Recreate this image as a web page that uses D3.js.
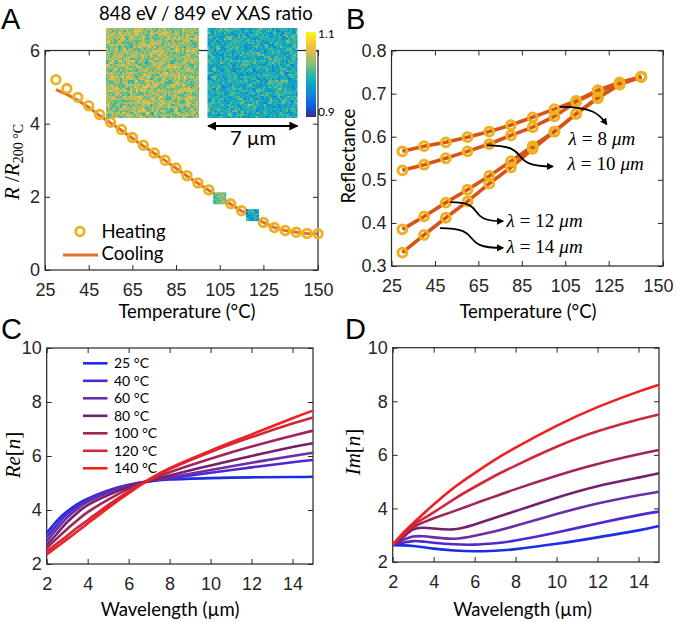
<!DOCTYPE html>
<html><head><meta charset="utf-8">
<script src="https://cdnjs.cloudflare.com/ajax/libs/d3/7.8.5/d3.min.js"></script>
<style>body{margin:0;background:#fff}</style>
</head><body>
<svg id="fig" width="677" height="622" xmlns="http://www.w3.org/2000/svg"></svg>
<script>
// ---------------- DATA ----------------
// Panel A
const tempA = [30,35,40,45,50,55,60,65,70,75,80,85,90,95,100,105,110,115,120,125,130,135,140,145,150];
const heatingA = [5.2,4.96,4.72,4.49,4.25,4.04,3.84,3.62,3.41,3.2,3.0,2.79,2.58,2.38,2.19,1.96,1.81,1.62,1.5,1.3,1.16,1.08,1.03,1.0,0.99];
const coolingA = [4.93,4.8,4.64,4.45,4.22,4.02,3.82,3.6,3.39,3.19,2.99,2.78,2.57,2.37,2.18,1.98,1.8,1.61,1.47,1.3,1.16,1.08,1.03,1.0,0.99];
const xasTemps = [105,120];          // temperatures of the XAS map markers
const xasMean = [0.6,0.42];          // mean colour position of the map markers
const xTicksA = [25,45,65,85,105,125,150];
const yTicksA = [0,2,4,6];
// Panel B
const tempB = [30,40,50,60,70,80,90,100,110,120,130,140];
const refl8  = [0.566,0.578,0.587,0.599,0.612,0.627,0.645,0.664,0.683,0.708,0.726,0.739];
const refl10 = [0.522,0.535,0.550,0.566,0.583,0.603,0.622,0.647,0.681,0.706,0.723,0.739];
const refl12 = [0.385,0.415,0.447,0.477,0.509,0.543,0.578,0.612,0.653,0.691,0.722,0.739];
const refl14 = [0.331,0.372,0.412,0.450,0.491,0.529,0.572,0.612,0.653,0.689,0.721,0.739];
const lambdaLabels = ["8","10","12","14"];
const xTicksB = [25,45,65,85,105,125,150];
const yTicksB = [0.3,0.4,0.5,0.6,0.7,0.8];
// Panels C & D
const wavelength = [2,2.5,3,3.5,4,5,6,7,8,10,12,14,15];
const tempsCD = ["25 °C","40 °C","60 °C","80 °C","100 °C","120 °C","140 °C"];
const colorsCD = ["#1c2de6","#5127cf","#6a2ea8","#74206f","#a0265a","#cf283c","#f0201e"];
const reN25  = [3.15,3.60,3.95,4.22,4.42,4.72,4.93,5.06,5.13,5.18,5.21,5.22,5.23];
const reN40  = [3.00,3.45,3.85,4.15,4.38,4.70,4.92,5.07,5.17,5.38,5.58,5.77,5.85];
const reN60  = [2.85,3.30,3.72,4.05,4.30,4.65,4.90,5.07,5.20,5.48,5.75,6.00,6.12];
const reN80  = [2.70,3.12,3.55,3.90,4.18,4.55,4.85,5.08,5.28,5.65,6.00,6.33,6.47];
const reN100 = [2.58,2.95,3.30,3.62,3.92,4.38,4.78,5.10,5.40,5.90,6.35,6.75,6.94];
const reN120 = [2.45,2.76,3.05,3.35,3.62,4.18,4.68,5.13,5.52,6.15,6.70,7.20,7.43];
const reN140 = [2.35,2.64,2.92,3.21,3.50,4.08,4.62,5.13,5.55,6.20,6.80,7.40,7.68];
const imN25  = [2.63,2.62,2.60,2.55,2.50,2.43,2.40,2.42,2.48,2.68,2.92,3.18,3.34];
const imN40  = [2.65,2.72,2.78,2.76,2.72,2.66,2.65,2.70,2.80,3.10,3.44,3.75,3.88];
const imN60  = [2.65,2.82,2.95,2.96,2.92,2.87,2.98,3.15,3.35,3.79,4.18,4.49,4.62];
const imN80  = [2.65,2.92,3.22,3.28,3.25,3.22,3.40,3.65,3.90,4.40,4.83,5.15,5.31];
const imN100 = [2.65,2.98,3.30,3.48,3.63,3.90,4.18,4.45,4.72,5.22,5.66,6.02,6.18];
const imN120 = [2.65,3.02,3.38,3.62,3.85,4.35,4.80,5.22,5.60,6.30,6.88,7.32,7.51];
const imN140 = [2.65,3.08,3.45,3.80,4.15,4.78,5.32,5.82,6.27,7.08,7.78,8.36,8.62];
const xTicksCD = [2,4,6,8,10,12,14];
const yTicksCD = [2,4,6,8,10];

// ---------------- STYLE ----------------
const AX = "#262626";
const TICKF = '"Liberation Sans", Arial, sans-serif';
const LABF = 'Lato, "Open Sans", sans-serif';
const MATHF = '"Liberation Serif", "DejaVu Serif", serif';
const ORANGE_A = "#e2702f", ORANGE_B = "#d95319", YELLOW = "#edb120";

const svg = d3.select("#fig");
const defs = svg.append("defs");

// parula-like colormap
const parulaStops = ["#352a87","#0f5cdd","#1481d6","#06a4ca","#2eb7a4","#87bf77","#d1bb59","#fec832","#f9fb0e"];
const parula = d3.scaleLinear().domain(d3.range(parulaStops.length).map(i=>i/(parulaStops.length-1))).range(parulaStops).interpolate(d3.interpolateRgb).clamp(true);

function hash(i,j,s){ const h = Math.sin(i*127.1 + j*311.7 + s*74.7)*43758.5453; return h-Math.floor(h); }
function noiseImage(w,h,mean,amp,seed){
  const cv = document.createElement("canvas"); cv.width=w; cv.height=h;
  const ctx = cv.getContext("2d"); const img = ctx.createImageData(w,h);
  for(let j=0;j<h;j++) for(let i=0;i<w;i++){
    const v = mean + 0.6*amp*(hash(i,j,seed)-0.5) + 0.7*amp*(hash(i>>1,j>>1,seed+3)-0.5) + 0.5*amp*(hash(i>>2,j>>2,seed+7)-0.5);
    const c = d3.rgb(parula(v)); const k=(j*w+i)*4;
    img.data[k]=c.r; img.data[k+1]=c.g; img.data[k+2]=c.b; img.data[k+3]=255;
  }
  ctx.putImageData(img,0,0); return cv.toDataURL();
}

function frame(g, x, y, xt, yt, yfmt){
  const size = 5;
  const gb = g.append("g").attr("transform",`translate(0,${y.range()[0]})`)
    .call(d3.axisBottom(x).tickValues(xt).tickSize(-size).tickPadding(13).tickFormat(d3.format("d")));
  const gt = g.append("g").attr("transform",`translate(0,${y.range()[1]})`)
    .call(d3.axisTop(x).tickValues(xt).tickSize(-size).tickFormat(""));
  const gl = g.append("g").attr("transform",`translate(${x.range()[0]},0)`)
    .call(d3.axisLeft(y).tickValues(yt).tickSize(-size).tickPadding(5).tickFormat(yfmt));
  const gr = g.append("g").attr("transform",`translate(${x.range()[1]},0)`)
    .call(d3.axisRight(y).tickValues(yt).tickSize(-size).tickFormat(""));
  [gb,gt,gl,gr].forEach(a=>{
    a.select(".domain").remove();
    a.selectAll("line").attr("stroke",AX).attr("stroke-width",1);
    a.selectAll("text").attr("fill",AX).style("font-family",TICKF).style("font-size","18px");
  });
  g.append("rect").attr("x",x.range()[0]).attr("y",y.range()[1])
    .attr("width",x.range()[1]-x.range()[0]).attr("height",y.range()[0]-y.range()[1])
    .attr("fill","none").attr("stroke",AX).attr("stroke-width",1.2);
  return gb;
}

function panelLetter(t,x,y){
  svg.append("text").attr("x",x).attr("y",y).text(t).attr("fill","#000")
    .style("font-family",TICKF).style("font-size","29px");
}
function xTitle(t,x,y){
  svg.append("text").attr("x",x).attr("y",y).attr("text-anchor","middle").text(t).attr("fill","#000")
    .style("font-family",LABF).style("font-size","18.5px");
}

// ================= PANEL A =================
{
  const x = d3.scaleLinear().domain([25,150]).range([45,318]);
  const y = d3.scaleLinear().domain([0,6]).range([270,50.5]);
  const g = svg.append("g");
  frame(g,x,y,xTicksA,yTicksA,d3.format("d"));
  const line = d3.line().x((d,i)=>x(tempA[i])).y(d=>y(d));
  g.append("path").datum(coolingA).attr("d",line).attr("fill","none").attr("stroke",ORANGE_A).attr("stroke-width",3);
  g.selectAll("circle.h").data(heatingA).join("circle").attr("class","h")
    .attr("cx",(d,i)=>x(tempA[i])).attr("cy",d=>y(d)).attr("r",4.3)
    .attr("fill","none").attr("stroke",YELLOW).attr("stroke-width",2.8);
  // XAS map markers
  xasTemps.forEach((t,k)=>{
    const v = heatingA[tempA.indexOf(t)];
    const url = noiseImage(13,12,xasMean[k],0.3,11+k);
    g.append("image").attr("href",url).attr("x",x(t)-6.5).attr("y",y(v)-6).attr("width",13).attr("height",12)
      .attr("preserveAspectRatio","none").style("image-rendering","pixelated");
  });
  // legend
  g.append("circle").attr("cx",80).attr("cy",231.5).attr("r",4.3).attr("fill","none").attr("stroke",YELLOW).attr("stroke-width",2.8);
  g.append("text").attr("x",101.5).attr("y",238).text("Heating").style("font-family",LABF).style("font-size","18.5px").attr("fill","#000");
  g.append("line").attr("x1",63).attr("x2",98).attr("y1",255).attr("y2",255).attr("stroke",ORANGE_A).attr("stroke-width",3);
  g.append("text").attr("x",101.5).attr("y",260).text("Cooling").style("font-family",LABF).style("font-size","18.5px").attr("fill","#000");
  // insets
  g.append("image").attr("href",noiseImage(93,90,0.66,0.32,1)).attr("x",106).attr("y",28).attr("width",93).attr("height",90)
    .attr("preserveAspectRatio","none").style("image-rendering","pixelated");
  g.append("image").attr("href",noiseImage(90,90,0.44,0.32,2)).attr("x",207.5).attr("y",28).attr("width",90).attr("height",90)
    .attr("preserveAspectRatio","none").style("image-rendering","pixelated");
  const lg = defs.append("linearGradient").attr("id","parula").attr("x1",0).attr("x2",0).attr("y1",1).attr("y2",0);
  parulaStops.forEach((c,i)=>lg.append("stop").attr("offset",i/(parulaStops.length-1)).attr("stop-color",c));
  g.append("rect").attr("x",306).attr("y",32).attr("width",10).attr("height",85).attr("fill","url(#parula)");
  g.append("text").attr("x",318).attr("y",38).text("1.1").style("font-family",LABF).style("font-size","12px").attr("fill","#000");
  g.append("text").attr("x",318).attr("y",116).text("0.9").style("font-family",LABF).style("font-size","12px").attr("fill","#000");
  g.append("text").attr("x",99).attr("y",20).text("848 eV / 849 eV XAS ratio").style("font-family",LABF).style("font-size","18.5px").attr("fill","#000");
  // scale bar
  defs.append("marker").attr("id","ah").attr("viewBox","0 0 10 10").attr("refX",9).attr("refY",5)
    .attr("markerWidth",4.5).attr("markerHeight",4.5).attr("orient","auto-start-reverse")
    .append("path").attr("d","M0,0 L10,5 L0,10 z").attr("fill","#000");
  g.append("line").attr("x1",208).attr("x2",297.5).attr("y1",126).attr("y2",126).attr("stroke","#000").attr("stroke-width",2)
    .attr("marker-start","url(#ah)").attr("marker-end","url(#ah)");
  g.append("text").attr("x",253).attr("y",145).attr("text-anchor","middle").text("7 µm").style("font-family",LABF).style("font-size","20px").attr("fill","#000");
  // y label
  const yl = svg.append("text").attr("transform","translate(19,162) rotate(-90)").attr("text-anchor","middle")
    .style("font-family",MATHF).style("font-size","21px").attr("fill","#000");
  yl.append("tspan").attr("font-style","italic").text("R");
  yl.append("tspan").text(" /");
  yl.append("tspan").attr("font-style","italic").text("R");
  yl.append("tspan").attr("dy",4).style("font-size","14px").text("200 °C");
  xTitle("Temperature (°C)",187,318);
  panelLetter("A",1,28.5);
}

// ================= PANEL B =================
{
  const x = d3.scaleLinear().domain([25,150]).range([391.5,663]);
  const y = d3.scaleLinear().domain([0.3,0.8]).range([266,50.5]);
  const g = svg.append("g");
  const gb = frame(g,x,y,xTicksB,yTicksB,d3.format(".1f"));
  gb.selectAll(".tick text").filter(d=>d===150).attr("dx",-5);
  const series = [refl8,refl10,refl12,refl14];
  const line = d3.line().x((d,i)=>x(tempB[i])).y(d=>y(d));
  series.forEach(s=>g.append("path").datum(s).attr("d",line).attr("fill","none").attr("stroke",ORANGE_B).attr("stroke-width",3.6));
  series.forEach(s=>g.append("g").selectAll("circle").data(s).join("circle")
    .attr("cx",(d,i)=>x(tempB[i])).attr("cy",d=>y(d)).attr("r",4.4)
    .attr("fill","none").attr("stroke",YELLOW).attr("stroke-width",3));
  // annotations (data coords)
  const ann = [
    {s:[102.4,0.669], e:[124,0.629], l:[106.5,0.580], arc:true},
    {s:[68.9,0.580],  e:[99.2,0.531], l:[106,0.522]},
    {s:[51.9,0.448],  e:[76.2,0.404], l:[77.9,0.391]},
    {s:[47.3,0.388],  e:[76.2,0.342], l:[77.9,0.330]}
  ];
  defs.append("marker").attr("id","ahB").attr("viewBox","0 0 10 10").attr("refX",8).attr("refY",5)
    .attr("markerWidth",4).attr("markerHeight",4).attr("orient","auto")
    .append("path").attr("d","M0,0 L10,5 L0,10 z").attr("fill","#000");
  ann.forEach((a,k)=>{
    const sx=x(a.s[0]), sy=y(a.s[1]), ex=x(a.e[0]), ey=y(a.e[1]);
    const dx=ex-sx, dy=ey-sy;
    const p = d3.path(); p.moveTo(sx,sy);
    if(a.arc) p.bezierCurveTo(sx+dx*0.75,sy, ex-dx*0.15,ey-dy*0.55, ex,ey);
    else p.bezierCurveTo(sx+dx*0.75,sy, ex-dx*0.75,ey, ex,ey);
    g.append("path").attr("d",p.toString()).attr("fill","none").attr("stroke","#000").attr("stroke-width",1.8).attr("marker-end","url(#ahB)");
    const t = g.append("text").attr("x",x(a.l[0])).attr("y",y(a.l[1])).style("font-family",MATHF).style("font-size","19px").attr("fill","#000");
    t.append("tspan").attr("font-style","italic").text("λ");
    t.append("tspan").attr("dx",5).text("=");
    t.append("tspan").attr("dx",5).text(lambdaLabels[k]);
    t.append("tspan").attr("dx",5).attr("font-style","italic").text("μm");
  });
  svg.append("text").attr("transform","translate(355,156) rotate(-90)").attr("text-anchor","middle")
    .text("Reflectance").style("font-family",LABF).style("font-size","18.5px").attr("fill","#000");
  xTitle("Temperature (°C)",528,318);
  panelLetter("B",346,28.5);
}

// ================= PANELS C & D =================
function cdPanel(xr,yr,series,label,lx,ly,letter,letX,titleX,legend){
  const x = d3.scaleLinear().domain([2,15]).range(xr);
  const y = d3.scaleLinear().domain([2,10]).range(yr);
  const g = svg.append("g");
  frame(g,x,y,xTicksCD,yTicksCD,d3.format("d"));
  const line = d3.line().x((d,i)=>x(wavelength[i])).y(d=>y(d)).curve(d3.curveNatural);
  series.forEach((s,k)=>g.append("path").datum(s).attr("d",line).attr("fill","none").attr("stroke",colorsCD[k]).attr("stroke-width",2.6));
  if(legend){
    tempsCD.forEach((t,k)=>{
      const yy = 363.3 + k*17.5;
      g.append("line").attr("x1",83).attr("x2",107.5).attr("y1",yy).attr("y2",yy).attr("stroke",colorsCD[k]).attr("stroke-width",2.6);
      g.append("text").attr("x",114).attr("y",yy+5).text(t).style("font-family",LABF).style("font-size","14px").attr("fill","#000");
    });
  }
  const yl = svg.append("text").attr("transform",`translate(${lx},${ly}) rotate(-90)`).attr("text-anchor","middle")
    .style("font-family",MATHF).style("font-size","21px").attr("fill","#000");
  yl.append("tspan").attr("font-style","italic").text(label);
  yl.append("tspan").text("[");
  yl.append("tspan").attr("font-style","italic").text("n");
  yl.append("tspan").text("]");
  xTitle("Wavelength (µm)",titleX,616);
  panelLetter(letter,letX,338.5);
}
cdPanel([46.7,313],[564,348],[reN25,reN40,reN60,reN80,reN100,reN120,reN140],"Re",20,455,"C",1,170,true);
cdPanel([392.7,659],[562,347.7],[imN25,imN40,imN60,imN80,imN100,imN120,imN140],"Im",360,452,"D",345,522.5,false);
</script>
</body></html>
